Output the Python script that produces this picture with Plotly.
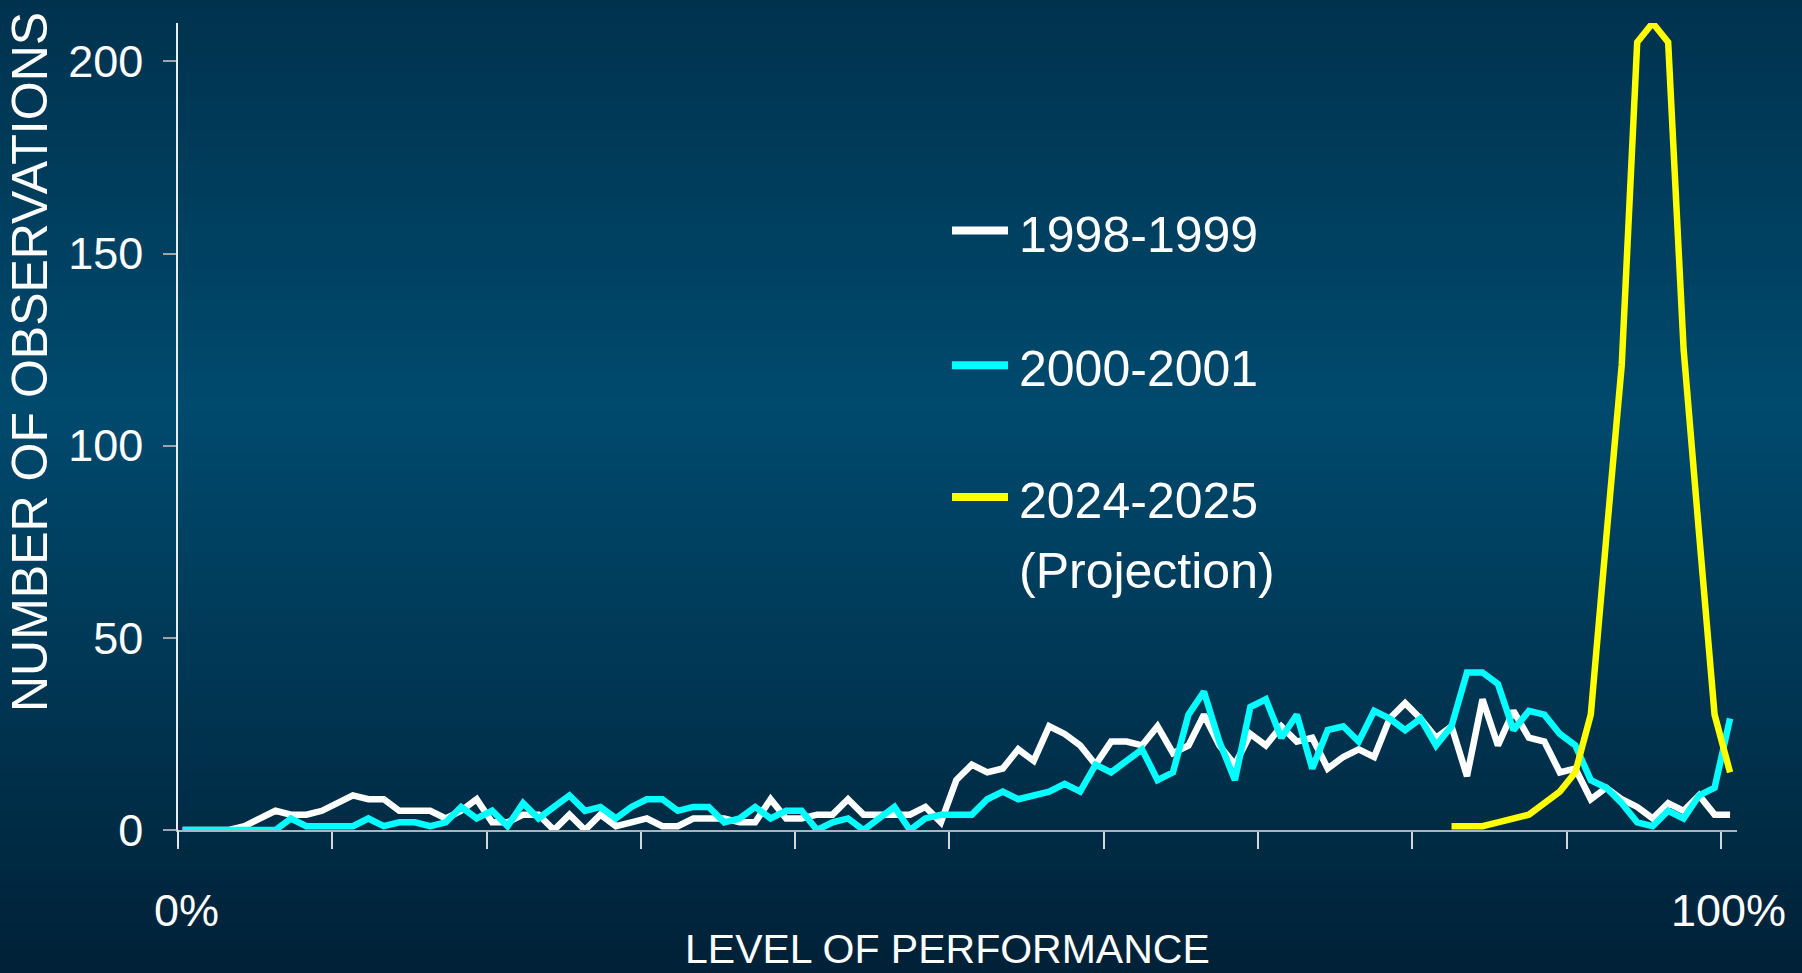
import plotly.graph_objects as go

# ---------------- data ----------------
# performance level bins (percent), 101 bins
bin_index = list(range(101))
bin_pos = [0.3 + 1.003 * i for i in bin_index]

series_1998 = [0, 0, 0, 0, 1, 3, 5, 4, 4, 5, 7, 9, 8, 8, 5, 5, 5, 3, 5, 8,
               2, 2, 4, 4, 0, 4, 0, 4, 1, 2, 3, 1, 1, 3, 3, 3, 2, 2, 8, 3,
               3, 4, 4, 8, 4, 4, 4, 4, 6, 2, 13, 17, 15, 16, 21, 18, 27, 25, 22, 17,
               23, 23, 22, 27, 20, 22, 30, 22, 17, 25, 22, 27, 23, 24, 16, 19, 21, 19, 29, 33,
               29, 24, 27, 14, 34, 22, 31, 24, 23, 15, 16, 8, 11, 8, 6, 3, 7, 5, 9, 4, 4]

series_2000 = [0, 0, 0, 0, 0, 0, 0, 3, 1, 1, 1, 1, 3, 1, 2, 2, 1, 2, 6, 3,
               5, 1, 7, 3, 6, 9, 5, 6, 3, 6, 8, 8, 5, 6, 6, 2, 3, 6, 3, 5,
               5, 0, 2, 3, 0, 3, 6, 0, 3, 4, 4, 4, 8, 10, 8, 9, 10, 12, 10, 17,
               15, 18, 21, 13, 15, 30, 36, 23, 13, 32, 34, 24, 30, 16, 26, 27, 23, 31, 29, 26,
               29, 22, 27, 41, 41, 38, 26, 31, 30, 25, 22, 13, 11, 7, 2, 1, 5, 3, 9, 11, 29]

proj_start = 82
series_2024 = [1, 1, 1, 2, 3, 4, 7, 10, 15, 30, 76, 121, 205, 210, 205, 125, 77, 30, 15]

names = ["1998-1999", "2000-2001", "2024-2025"]
colors = ["#ffffff", "#00ffff", "#ffff00"]
y_ticks = [0, 50, 100, 150, 200]
x_ticks = [0, 10, 20, 30, 40, 50, 60, 70, 80, 90, 100]

# ---------------- geometry ----------------
W, H = 1802, 973
L, R, T, B = 178, 65, 23, 143
PW, PH = W - L - R, H - T - B
PB = H - B


def px2x(px):
    return (px - L) / PW


def py2y(py):
    return (PB - py) / PH


FONT = "Liberation Sans, Arial, sans-serif"

fig = go.Figure()

fig.add_trace(go.Scatter(x=bin_pos, y=series_1998, mode="lines", name=names[0],
                         line=dict(color=colors[0], width=6.5), showlegend=False))
fig.add_trace(go.Scatter(x=bin_pos, y=series_2000, mode="lines", name=names[1],
                         line=dict(color=colors[1], width=6.5), showlegend=False))
fig.add_trace(go.Scatter(x=bin_pos[proj_start:], y=series_2024, mode="lines", name=names[2],
                         line=dict(color=colors[2], width=6.5), showlegend=False))

shapes = []
# background gradient
stops = [(0.0, (0, 50, 78)), (0.42, (0, 74, 110)), (1.0, (0, 33, 55))]


def grad(t):
    for (t0, c0), (t1, c1) in zip(stops[:-1], stops[1:]):
        if t <= t1:
            f = (t - t0) / (t1 - t0)
            return tuple(round(a + (b - a) * f) for a, b in zip(c0, c1))
    return stops[-1][1]


nb = 120
for k in range(nb):
    y0p = H * k / nb
    y1p = H * (k + 1) / nb + 1
    c = grad((k + 0.5) / nb)
    shapes.append(dict(type="rect", xref="paper", yref="paper", layer="below",
                       x0=px2x(-2), x1=px2x(W + 2), y0=py2y(y1p), y1=py2y(y0p),
                       line=dict(width=0), fillcolor="rgb(%d,%d,%d)" % c))

# y axis line extension below the x axis
shapes.append(dict(type="line", xref="paper", yref="paper", x0=0, x1=0,
                   y0=py2y(847), y1=0, line=dict(color="#e8eef2", width=1.5)))

# legend samples
leg_y = [230.5, 365.3, 497]
for c, yy in zip(colors, leg_y):
    shapes.append(dict(type="line", xref="paper", yref="paper",
                       x0=px2x(952), x1=px2x(1008), y0=py2y(yy), y1=py2y(yy),
                       line=dict(color=c, width=8)))

annotations = []
leg_text = [("1998-1999", 235), ("2000-2001", 369), ("2024-2025", 501), ("(Projection)", 571)]
for txt, yy in leg_text:
    annotations.append(dict(text=txt, xref="paper", yref="paper", x=px2x(1017), y=py2y(yy),
                            xanchor="left", yanchor="middle", showarrow=False,
                            font=dict(family=FONT, size=50, color="white")))

annotations.append(dict(text="0%", xref="paper", yref="paper", x=px2x(186), y=py2y(910),
                        xanchor="center", yanchor="middle", showarrow=False,
                        font=dict(family=FONT, size=45, color="white")))
annotations.append(dict(text="100%", xref="paper", yref="paper", x=px2x(1728), y=py2y(910),
                        xanchor="center", yanchor="middle", showarrow=False,
                        font=dict(family=FONT, size=45, color="white")))
annotations.append(dict(text="LEVEL OF PERFORMANCE", xref="paper", yref="paper",
                        x=px2x(947), y=py2y(949), xanchor="center", yanchor="middle",
                        showarrow=False, font=dict(family=FONT, size=41, color="white")))
annotations.append(dict(text="NUMBER OF OBSERVATIONS", xref="paper", yref="paper",
                        x=px2x(30), y=py2y(362), xanchor="center", yanchor="middle",
                        textangle=-90, showarrow=False,
                        font=dict(family=FONT, size=50, color="white")))

fig.update_layout(
    width=W, height=H, autosize=False,
    margin=dict(l=L, r=R, t=T, b=B, pad=0),
    paper_bgcolor="rgb(0,50,78)",
    plot_bgcolor="rgba(0,0,0,0)",
    shapes=shapes,
    annotations=annotations,
    showlegend=False,
    xaxis=dict(range=[0, 101.05], tickvals=x_ticks, showticklabels=False,
               ticks="outside", ticklen=17, tickwidth=1.5, tickcolor="#d0d8de",
               showline=True, linecolor="#aab4bc", linewidth=1.5,
               showgrid=False, zeroline=False, fixedrange=True),
    yaxis=dict(range=[0, 210], tickvals=y_ticks, ticks="outside", ticklen=13,
               tickwidth=1.5, tickcolor="#9aa6b0", showline=True, linecolor="#e8eef2",
               linewidth=1.5, showgrid=False, zeroline=False, ticklabelstandoff=11,
               tickfont=dict(family=FONT, size=45, color="white"), fixedrange=True),
)

fig.write_html("out.html", config={"displayModeBar": False},
               post_script="document.body.style.margin='0px';document.body.style.overflow='hidden';")
